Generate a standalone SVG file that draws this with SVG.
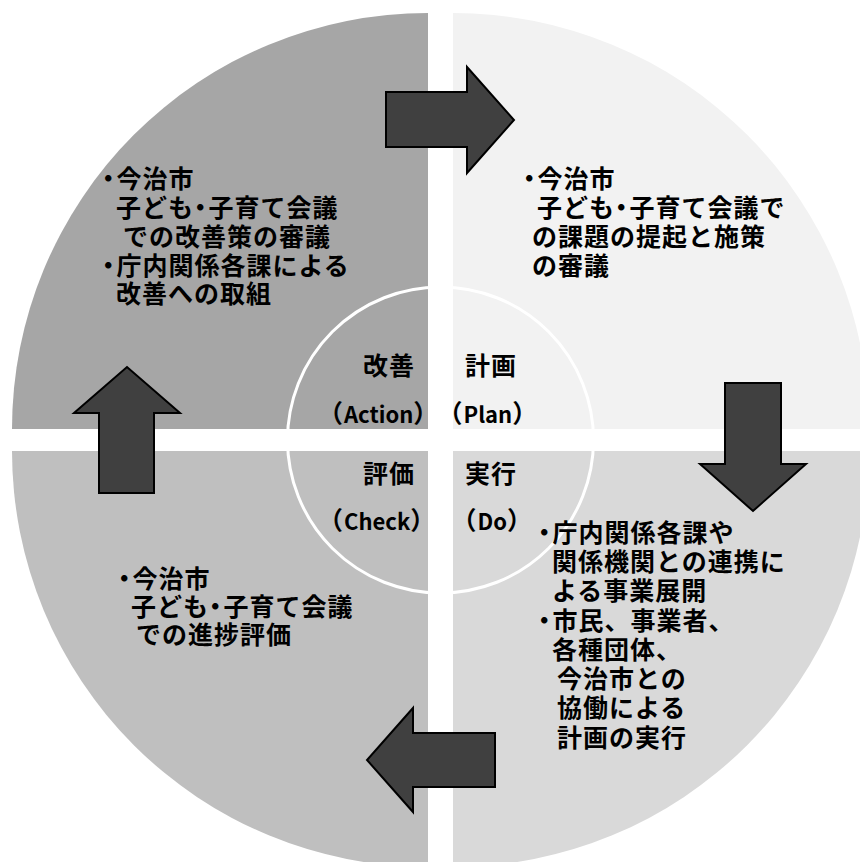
<svg xmlns="http://www.w3.org/2000/svg" width="860" height="862" viewBox="0 0 860 862">
<style>
.t{font-family:"Noto Sans CJK JP","Liberation Sans",sans-serif;font-weight:700;font-size:25px;letter-spacing:1px;fill:#000}
.l{font-size:22px;letter-spacing:0}
.p{font-feature-settings:"palt" 1;letter-spacing:2px}
.arr{fill:#404040;stroke:#000;stroke-width:2;stroke-linejoin:miter}
</style>
<rect width="860" height="862" fill="#fff"/>
<g id="action">
<path d="M428,429 L12,429 A416,416 0 0 1 428,13 Z" fill="#a6a6a6"/>
</g>
<g id="plan">
<path d="M453,429 L453,13 A416,416 0 0 1 869,429 Z" fill="#f2f2f2"/>
</g>
<g id="do">
<path d="M453,451 L869,451 A416,416 0 0 1 453,867 Z" fill="#d9d9d9"/>
</g>
<g id="check">
<path d="M428,451 L428,867 A416,416 0 0 1 12,451 Z" fill="#bfbfbf"/>
</g>
<circle cx="440.5" cy="440" r="153" fill="none" stroke="#fff" stroke-width="3"/>
<g id="action-text" class="t">
<text x="363" y="374.5">改善</text>
<text x="318" y="423">（<tspan class="l">Action</tspan>）</text>
<text x="102" y="187.5"><tspan class="p">・</tspan>今治市</text>
<text x="116" y="216.5">子ども<tspan class="p">・</tspan>子育て会議</text>
<text x="123" y="245.5">での改善策の審議</text>
<text x="102" y="274.5"><tspan class="p">・</tspan>庁内関係各課による</text>
<text x="116" y="302.5">改善への取組</text>
</g>
<g id="plan-text" class="t">
<text x="465" y="374.5">計画</text>
<text x="437.5" y="423">（<tspan class="l">Plan</tspan>）</text>
<text x="523" y="187.5"><tspan class="p">・</tspan>今治市</text>
<text x="537" y="216.5">子ども<tspan class="p">・</tspan>子育て会議で</text>
<text x="532" y="245.5">の課題の提起と施策</text>
<text x="532" y="274.5">の審議</text>
</g>
<g id="do-text" class="t">
<text x="465" y="482.5">実行</text>
<text x="451.5" y="530">（<tspan class="l">Do</tspan>）</text>
<text x="538" y="541.5"><tspan class="p">・</tspan>庁内関係各課や</text>
<text x="552" y="570.5">関係機関との連携に</text>
<text x="552" y="599.5">よる事業展開</text>
<text x="538" y="629.5"><tspan class="p">・</tspan>市民、事業者、</text>
<text x="552" y="658.5">各種団体、</text>
<text x="557" y="687.5">今治市との</text>
<text x="557" y="716.5">協働による</text>
<text x="557" y="746.5">計画の実行</text>
</g>
<g id="check-text" class="t">
<text x="363" y="482.5">評価</text>
<text x="318" y="530">（<tspan class="l">Check</tspan>）</text>
<text x="118" y="587.5"><tspan class="p">・</tspan>今治市</text>
<text x="131" y="615.5">子ども<tspan class="p">・</tspan>子育て会議</text>
<text x="136" y="643.5">での進捗評価</text>
</g>
<g id="connectors">
<path class="arr" d="M386,92 L467,92 L467,67 L514,120 L467,173 L467,147 L386,147 Z"/>
<path class="arr" d="M725,383 L781,383 L781,464 L806,464 L753,511 L700,464 L725,464 Z"/>
<path class="arr" d="M495,733 L495,787 L413,787 L413,812 L367,760 L413,708 L413,733 Z"/>
<path class="arr" d="M99,493 L99,413 L74,413 L127,367 L180,413 L154,413 L154,493 Z"/>
</g>
</svg>
